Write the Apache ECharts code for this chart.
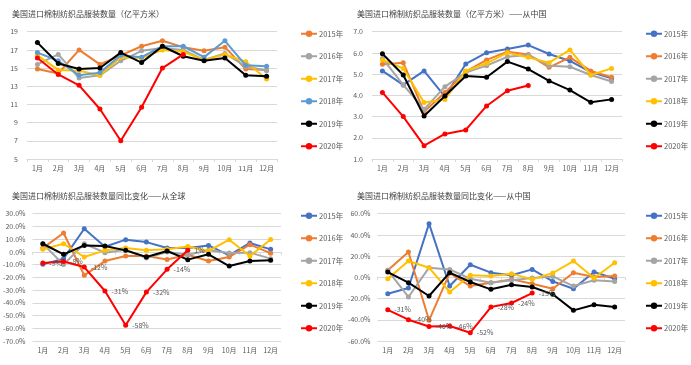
<!DOCTYPE html>
<html><head><meta charset="utf-8">
<script src="https://cdn.jsdelivr.net/npm/echarts@6/dist/echarts.min.js"></script>
<style>
html,body{margin:0;padding:0;background:#fff;}
.p{position:absolute;width:345px;height:182px;}
</style></head>
<body>
<div id="c1" class="p" style="left:0;top:0"></div>
<div id="c2" class="p" style="left:345px;top:0"></div>
<div id="c3" class="p" style="left:0;top:182px"></div>
<div id="c4" class="p" style="left:345px;top:182px"></div>
<script>
const months = ['1月','2月','3月','4月','5月','6月','7月','8月','9月','10月','11月','12月'];
const years = ['2015年','2016年','2017年','2018年','2019年','2020年'];

// Panel 1: total quantity (100M sq m)
const total2015 = [14.9,14.4,17.0,15.4,16.4,17.4,18.0,17.3,16.9,17.3,14.9,14.8];
const total2016 = [15.4,16.5,13.9,14.2,15.8,16.9,17.2,17.0,15.9,16.6,15.2,14.7];
const total2017 = [16.4,14.8,14.7,14.2,16.2,16.1,17.0,16.8,15.9,16.5,15.7,13.8];
const total2018 = [16.7,15.8,14.2,14.5,16.4,16.2,17.4,17.4,16.2,18.0,15.3,15.2];
const total2019 = [17.8,15.5,14.9,15.0,16.7,15.6,17.4,16.3,15.8,16.1,14.2,14.1];
const total2020 = [16.1,14.3,13.1,10.5,7.0,10.7,15.0,16.5];

// Panel 2: from China
const china2015 = [5.15,4.49,5.15,3.94,5.48,6.01,6.18,6.37,5.95,5.62,5.10,4.80];
const china2016 = [5.46,5.54,3.23,4.13,5.12,5.67,6.06,5.93,5.32,5.79,5.15,4.85];
const china2017 = [5.74,4.49,3.34,4.41,5.07,5.40,5.82,5.90,5.40,5.35,4.96,4.65];
const china2018 = [5.67,5.27,3.66,3.81,5.15,5.51,6.01,5.79,5.54,6.14,4.96,5.27];
const china2019 = [5.96,4.96,3.03,3.97,4.91,4.85,5.59,5.24,4.68,4.25,3.67,3.81];
const china2020 = [4.14,3.00,1.63,2.18,2.37,3.50,4.22,4.46];

// Panel 3: YoY change, world (%)
const yoyW2015 = [-9.8,-5.3,18.2,4.0,9.6,7.7,3.0,3.0,5.1,-2.7,7.0,2.0];
const yoyW2016 = [3.0,14.8,-18.4,-7.2,-3.2,-3.2,-5.9,-2.2,-7.2,-4.0,5.7,-1.0];
const yoyW2017 = [6.4,-10.0,6.4,-0.6,1.7,-4.8,-0.1,-2.2,1.2,-0.9,-0.6,-5.3];
const yoyW2018 = [2.0,6.4,-4.0,1.2,3.0,1.2,2.0,4.3,0.7,9.6,-3.2,9.8];
const yoyW2019 = [6.4,-1.9,5.1,4.6,1.2,-4.0,0.7,-6.1,-1.9,-11.1,-7.2,-6.6];
const yoyW2020 = [-8.7,-7.6,-11.9,-30.7,-57.7,-31.6,-13.7,1.2];

// Panel 4: YoY change, from China (%)
const yoyC2015 = [-15.4,-10.0,50.6,-8.2,11.9,4.4,1.9,7.5,-3.8,-10.7,5.0,-1.3];
const yoyC2016 = [6.6,23.9,-40.5,4.0,-8.2,-5.0,-1.9,-6.0,-10.7,4.4,0.3,1.2];
const yoyC2017 = [6.6,-18.5,9.1,7.5,-1.3,-5.0,-2.8,-0.6,0.9,-8.2,-2.8,-3.8];
const yoyC2018 = [-1.3,15.4,9.1,-13.8,1.9,1.2,3.5,-1.9,4.1,15.4,-0.6,13.8];
const yoyC2019 = [5.0,-5.0,-17.6,4.4,-4.4,-11.3,-6.9,-9.1,-16.0,-31.1,-25.8,-28.0];
const yoyC2020 = [-30.6,-39.9,-46.3,-45.9,-52.2,-28.0,-24.2,-14.8];

const FONT = '"Noto Sans CJK SC","Noto Sans",sans-serif';
const TXT = '#595959';
const colorsA = ['#ED7D31','#A5A5A5','#FFC000','#5B9BD5','#000000','#FF0000'];
const colorsB = ['#4472C4','#ED7D31','#A5A5A5','#FFC000','#000000','#FF0000'];

function build(el, title, dataSets, colors, yCfg, grid, showLabels) {
  const chart = echarts.init(document.getElementById(el), null, {renderer:'canvas'});
  const series = dataSets.map((d, i) => ({
    name: years[i], type: 'line', data: d,
    symbol: 'circle', symbolSize: 5,
    lineStyle: {width: 2, color: colors[i]},
    itemStyle: {color: colors[i]},
    z: i === 5 ? 10 : 2 + i,
    animation: false,
    label: (showLabels && i === 5) ? {
      show: true, position: 'right', distance: 4, color: TXT, fontSize: 7, fontFamily: FONT,
      formatter: p => Math.round(p.value) + '%'
    } : {show: false}
  }));
  chart.setOption({
    animation: false,
    backgroundColor: '#fff',
    title: {text: title, left: 12, top: 10, padding: 0, textStyle: {fontSize: 8, fontWeight: 'normal', color: '#404040', fontFamily: FONT}},
    legend: {
      data: years, orient: 'vertical', left: 300, top: 30, padding: 0, itemGap: 15,
      itemWidth: 16, itemHeight: 8,
      textStyle: {fontSize: 7.5, color: TXT, fontFamily: FONT, padding: [0,0,0,-3]}
    },
    grid: grid,
    xAxis: {
      type: 'category', data: months, boundaryGap: true,
      axisLine: {lineStyle: {color: '#d9d9d9'}},
      axisTick: {show: true, length: 3, lineStyle: {color: '#d9d9d9'}},
      axisLabel: {fontSize: 7, color: TXT, fontFamily: FONT, margin: 6}
    },
    yAxis: Object.assign({
      type: 'value',
      axisLine: {show: false}, axisTick: {show: false},
      splitLine: {lineStyle: {color: '#d9d9d9'}},
    }, yCfg),
    series: series
  });
}

build('c1', '美国进口棉制纺织品服装数量（亿平方米）',
  [total2015,total2016,total2017,total2018,total2019,total2020], colorsA,
  {min: 5, max: 19, interval: 2, axisLabel: {fontSize: 7, color: TXT, fontFamily: FONT, margin: 9}},
  {left: 27, right: 68, top: 31.7, bottom: 23}, false);

build('c2', '美国进口棉制纺织品服装数量（亿平方米）——从中国',
  [china2015,china2016,china2017,china2018,china2019,china2020], colorsB,
  {min: 1, max: 7, interval: 1, axisLabel: {fontSize: 7, color: TXT, fontFamily: FONT, margin: 9, formatter: v => v.toFixed(1)}},
  {left: 27, right: 68, top: 31.7, bottom: 23}, false);

build('c3', '美国进口棉制纺织品服装数量同比变化——从全球',
  [yoyW2015,yoyW2016,yoyW2017,yoyW2018,yoyW2019,yoyW2020], colorsB,
  {min: -70, max: 30, interval: 10, axisLabel: {fontSize: 7, color: TXT, fontFamily: FONT, margin: 7, formatter: v => v.toFixed(1) + '%'}},
  {left: 28.5, right: 64, top: 31.7, bottom: 23}, true);

build('c4', '美国进口棉制纺织品服装数量同比变化——从中国',
  [yoyC2015,yoyC2016,yoyC2017,yoyC2018,yoyC2019,yoyC2020], colorsB,
  {min: -60, max: 60, interval: 20, axisLabel: {fontSize: 7, color: TXT, fontFamily: FONT, margin: 7, formatter: v => v.toFixed(1) + '%'}},
  {left: 28.5, right: 65, top: 31.7, bottom: 23}, true);
</script>
</body></html>
